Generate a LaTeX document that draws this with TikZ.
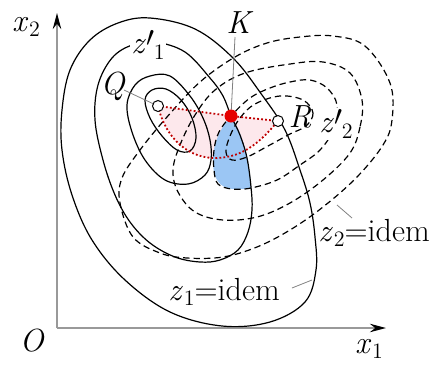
\documentclass[tikz,border=0pt]{standalone}
\usetikzlibrary{arrows.meta}
\newcommand{\vsub}[2]{\textit{#1}\kern0.03em\raisebox{-0.4ex}{\fontsize{11}{11}\selectfont #2}}
\newcommand{\vsubp}[2]{\textit{#1}\kern0.02em\raisebox{0.55ex}{\fontsize{14}{14}\selectfont$\prime$}\kern-0.02em\raisebox{-0.45ex}{\fontsize{11}{11}\selectfont #2}}
\begin{document}
\begin{tikzpicture}[x=0.5pt,y=-0.5pt,
  zsolid/.style={black,line width=0.6pt},
  zdash/.style={black,line width=0.6pt,dash pattern=on 3.2pt off 2pt},
  reddot/.style={red!75!black,line width=0.9pt,dash pattern=on 0.9pt off 1.1pt},
  leader/.style={gray,line width=0.4pt},
  axis/.style={gray!80,line width=1pt,-{Stealth[length=8pt,width=4.2pt,color=black]}},
  lab/.style={font=\rmfamily\fontsize{16}{18}\selectfont, inner sep=1pt},
  masklab/.style={lab,fill=white,inner sep=0.5pt},
  opencirc/.style={circle,draw=black,fill=white,line width=0.5pt,minimum size=5.5pt,inner sep=0pt},
  redcirc/.style={circle,fill=red!90!black,minimum size=6.5pt,inner sep=0pt}]
\useasboundingbox (0,0) rectangle (429,365);
\definecolor{bluefill}{RGB}{155,198,244}
\definecolor{pinkfill}{RGB}{253,232,236}
% key points
\coordinate (o) at (57,328);
\coordinate (x2end) at (57,13);
\coordinate (x1end) at (386,328);
\coordinate (q) at (158,106);
\coordinate (k) at (231,116);
\coordinate (r) at (278,121);
% shaded regions
\fill[pinkfill] (q) -- (k) -- (r) .. controls (262,140) and (245,157) .. (217,158)
   .. controls (190,159) and (166,140) .. (q);
\fill[bluefill] (k) .. controls (222,126) and (213,142) .. (213,160)
   .. controls (213,178) and (218,188) .. (234,189)
   .. controls (242,189) and (248,189) .. (251,188)
   .. controls (250,165) and (244,135) .. (k);
% axes
\draw[axis] (o) -- (x2end);
\draw[axis] (o) -- (x1end);
% solid contours (z1)
\draw[zsolid] plot[smooth cycle,tension=0.6] coordinates {(150,18) (195,29) (233,58) (262,95) (285,130) (300,170) (310,203) (315,237) (316,270) (305,302) (270,322) (222,326) (170,312) (125,280) (92,240) (72,195) (62,150) (62,110) (70,70) (90,40) (118,23)};
\draw[zsolid] plot[smooth cycle,tension=0.6] coordinates {(155,42) (185,52) (210,78) (223,96) (231,116) (240,135) (247,158) (251,187) (252,210) (248,232) (238,250) (220,260) (200,262) (175,257) (150,243) (130,222) (115,195) (103,160) (95,120) (98,85) (112,58) (132,45)};
\draw[zsolid] plot[smooth cycle,tension=0.6] coordinates {(127,105) (135,85) (150,76) (170,76) (190,96) (203,118) (210,140) (211,160) (205,175) (188,184) (165,180) (145,160) (132,132)};
\draw[zsolid] plot[smooth cycle,tension=0.6] coordinates {(145,100) (152,90) (166,89) (181,100) (192,118) (196,138) (190,151) (177,150) (162,136) (150,118)};
% dashed contours (z2)
\draw[zdash] plot[smooth cycle,tension=0.6] coordinates {(390,83) (392,120) (383,145) (357,177) (323,207) (290,230) (257,247) (223,257) (187,258) (160,253) (133,237) (120,203) (122,178) (140,150) (167,117) (200,82) (235,57) (267,43) (300,37) (333,36) (365,46)};
\draw[zdash] plot[smooth cycle,tension=0.6] coordinates {(362,100) (360,127) (350,153) (323,180) (290,203) (257,217) (223,220) (195,212) (178,192) (173,170) (180,145) (195,115) (215,90) (245,73) (290,64) (323,62) (350,73)};
\draw[zdash] plot[smooth cycle,tension=0.6] coordinates {(337,105) (333,130) (320,150) (300,165) (277,180) (251,188) (232,189) (218,184) (214,170) (214,150) (219,132) (231,116) (250,98) (270,88) (290,82) (310,80) (327,88)};
\draw[zdash] plot[smooth cycle,tension=0.6] coordinates {(303,100) (313,113) (306,126) (290,134) (268,146) (247,157) (232,160) (226,152) (230,136) (240,118) (255,104) (280,96)};
% red dotted lines
\draw[reddot] (q) -- (k) -- (r);
\draw[reddot] (q) .. controls (166,140) and (190,159) .. (217,158)
   .. controls (245,157) and (262,140) .. (r);
% labels
\node[lab] (lx2) at (26,27) {\vsub{x}{2}};
\node[lab] (lx1) at (369,349) {\vsub{x}{1}};
\node[lab] (lO) at (32,341) {\textit{O}};
\node[lab] (lQ) at (113,86) {\textit{Q}};
\node[lab] (lK) at (240,23) {\textit{K}};
\node[lab] (lR) at (300,117) {\textit{R}};
\node[masklab] (lz1p) at (148,45) {\vsubp{z}{1}};
\node[masklab] (lz2p) at (336,124) {\vsubp{z}{2}};
\node[lab] (lz2i) at (374,233) {\vsub{z}{2}=idem};
\node[lab] (lz1i) at (224,292) {\vsub{z}{1}=idem};
% leaders
\coordinate (qa) at (124,90);
\coordinate (ka) at (235,37);
\coordinate (z2a) at (352,218);
\coordinate (z2b) at (337,205);
\coordinate (z1a) at (292,288);
\coordinate (z1b) at (312,280);
\draw[leader] (qa) -- (q);
\draw[leader] (ka) -- (k);
\draw[leader] (z2a) -- (z2b);
\draw[leader] (z1a) -- (z1b);
% points
\node[opencirc] (Q) at (q) {};
\node[redcirc] (K) at (k) {};
\node[opencirc] (R) at (r) {};
\end{tikzpicture}
\end{document}
